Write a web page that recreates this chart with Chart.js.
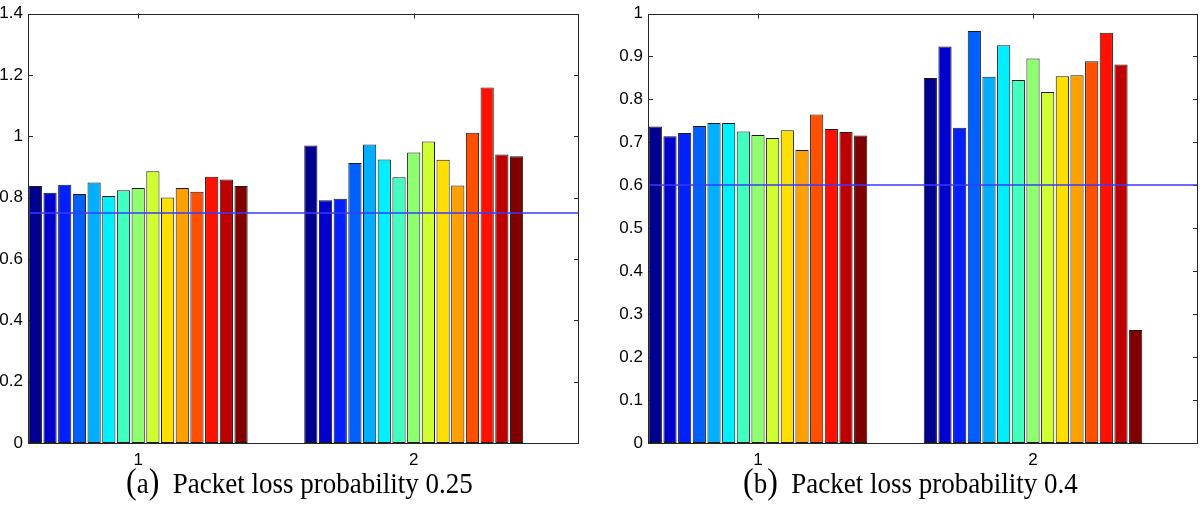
<!DOCTYPE html>
<html>
<head>
<meta charset="utf-8">
<script src="https://cdn.jsdelivr.net/npm/chart.js@4.4.1/dist/chart.umd.min.js"></script>
<style>
  body { margin: 0; background: #fff; width: 1200px; height: 505px; position: relative; overflow: hidden; }
  .wrap { position: absolute; top: 0; }
  .cap { position: absolute; top: 467px; font-family: "Liberation Serif", "Times New Roman", serif; font-size: 27px; line-height: 30px; white-space: nowrap; color: #000; transform: scaleY(1.1); transform-origin: 0 80%; }
  .cap .par { font-size: 32px; }
</style>
</head>
<body>
<div class="wrap" style="left:0"><canvas id="chartA" width="590" height="470"></canvas></div>
<div class="wrap" style="left:590px"><canvas id="chartB" width="610" height="470"></canvas></div>
<div class="cap" style="left:126px"><span class="par">(</span>a<span class="par">)</span>&nbsp; Packet loss probability 0.25</div>
<div class="cap" style="left:743px"><span class="par">(</span>b<span class="par">)</span>&nbsp; Packet loss probability 0.4</div>
<script>
const categories = [1, 2];

// (a) packet loss 0.25 - one value per series, group 1 and group 2
const lossA1 = [0.838, 0.816, 0.842, 0.812, 0.849, 0.805, 0.824, 0.831, 0.886, 0.800, 0.831, 0.819, 0.868, 0.859, 0.838];
const lossA2 = [0.970, 0.791, 0.796, 0.913, 0.973, 0.924, 0.866, 0.947, 0.983, 0.923, 0.839, 1.011, 1.159, 0.940, 0.935];
const thresholdA = 0.75;
const yTicksA = [0, 0.2, 0.4, 0.6, 0.8, 1, 1.2, 1.4];

// (b) packet loss 0.4
const lossB1 = [0.737, 0.714, 0.722, 0.738, 0.745, 0.745, 0.725, 0.717, 0.710, 0.728, 0.682, 0.765, 0.731, 0.724, 0.716];
const lossB2 = [0.850, 0.923, 0.734, 0.959, 0.853, 0.926, 0.845, 0.895, 0.817, 0.854, 0.856, 0.889, 0.955, 0.881, 0.263];
const thresholdB = 0.6;
const yTicksB = [0, 0.1, 0.2, 0.3, 0.4, 0.5, 0.6, 0.7, 0.8, 0.9, 1];

// jet colormap, 15 series
const jet = ['#000090', '#0000cf', '#0020ff', '#0060ff', '#00afff', '#00efff', '#40ffbf', '#8fff70',
             '#cfff30', '#ffdf00', '#ff9f00', '#ff5000', '#ff1000', '#bf0000', '#800000'];

const tickFont = { family: 'Liberation Sans', size: 17, lineHeight: 1 };

function makeDatasets(g1, g2) {
  return g1.map((v, i) => ({
    data: [{ x: categories[0], y: v }, { x: categories[1], y: g2[i] }],
    backgroundColor: jet[i],
    borderColor: '#1a1a1a',
    borderWidth: 1,
    borderSkipped: false
  }));
}

// matlab style box: inner ticks, frame, threshold line
const matlabAxes = {
  id: 'matlabAxes',
  beforeDatasetsDraw(chart) {
    const { ctx, chartArea: a, scales: { x, y } } = chart;
    ctx.save();
    ctx.strokeStyle = '#262626';
    ctx.lineWidth = 1;
    ctx.beginPath();
    y.ticks.forEach(t => {
      const py = Math.round(y.getPixelForValue(t.value)) + 0.5;
      ctx.moveTo(a.left, py); ctx.lineTo(a.left + 5, py);
      ctx.moveTo(a.right - 5, py); ctx.lineTo(a.right, py);
    });
    x.ticks.forEach(t => {
      const px = Math.round(x.getPixelForValue(t.value)) + 0.5;
      ctx.moveTo(px, a.top); ctx.lineTo(px, a.top + 5);
      ctx.moveTo(px, a.bottom - 5); ctx.lineTo(px, a.bottom);
    });
    ctx.stroke();
    ctx.restore();
  },
  afterDatasetsDraw(chart, args, opts) {
    const { ctx, chartArea: a, scales: { y } } = chart;
    ctx.save();
    const ty = Math.round(y.getPixelForValue(opts.threshold));
    ctx.strokeStyle = '#3a3aff';
    ctx.lineWidth = 1.5;
    ctx.beginPath();
    ctx.moveTo(a.left, ty);
    ctx.lineTo(a.right, ty);
    ctx.stroke();
    ctx.strokeStyle = '#262626';
    ctx.lineWidth = 1;
    ctx.strokeRect(Math.round(a.left) + 0.5, Math.round(a.top) + 0.5, Math.round(a.width) - 1, Math.round(a.height) - 1);
    ctx.restore();
  }
};

function makeChart(id, g1, g2, threshold, yTicks, yWidth, padRight) {
  new Chart(document.getElementById(id), {
    type: 'bar',
    data: { datasets: makeDatasets(g1, g2) },
    plugins: [matlabAxes],
    options: {
      responsive: false,
      animation: false,
      layout: { padding: { left: 0, top: 8, right: padRight, bottom: 0 } },
      datasets: { bar: { categoryPercentage: 0.8, barPercentage: 0.9 } },
      plugins: {
        legend: { display: false },
        tooltip: { enabled: false },
        matlabAxes: { threshold: threshold }
      },
      scales: {
        x: {
          type: 'linear',
          min: 0.6,
          max: 2.6,
          offset: false,
          grid: { display: false, drawTicks: false, offset: false },
          border: { display: false },
          afterBuildTicks: s => { s.ticks = categories.map(v => ({ value: v })); },
          afterFit: s => { s.height = 27; },
          ticks: { padding: 9, color: '#000', font: tickFont, callback: v => String(v) }
        },
        y: {
          min: yTicks[0],
          max: yTicks[yTicks.length - 1],
          grid: { display: false, drawTicks: false },
          border: { display: false },
          afterBuildTicks: s => { s.ticks = yTicks.map(v => ({ value: v })); },
          afterFit: s => { s.width = yWidth; },
          ticks: { padding: 5, color: '#000', font: tickFont, autoSkip: false, callback: v => String(+v.toFixed(2)) }
        }
      }
    }
  });
}

makeChart('chartA', lossA1, lossA2, thresholdA, yTicksA, 28, 11);
makeChart('chartB', lossB1, lossB2, thresholdB, yTicksB, 58, 2);
</script>
</body>
</html>
